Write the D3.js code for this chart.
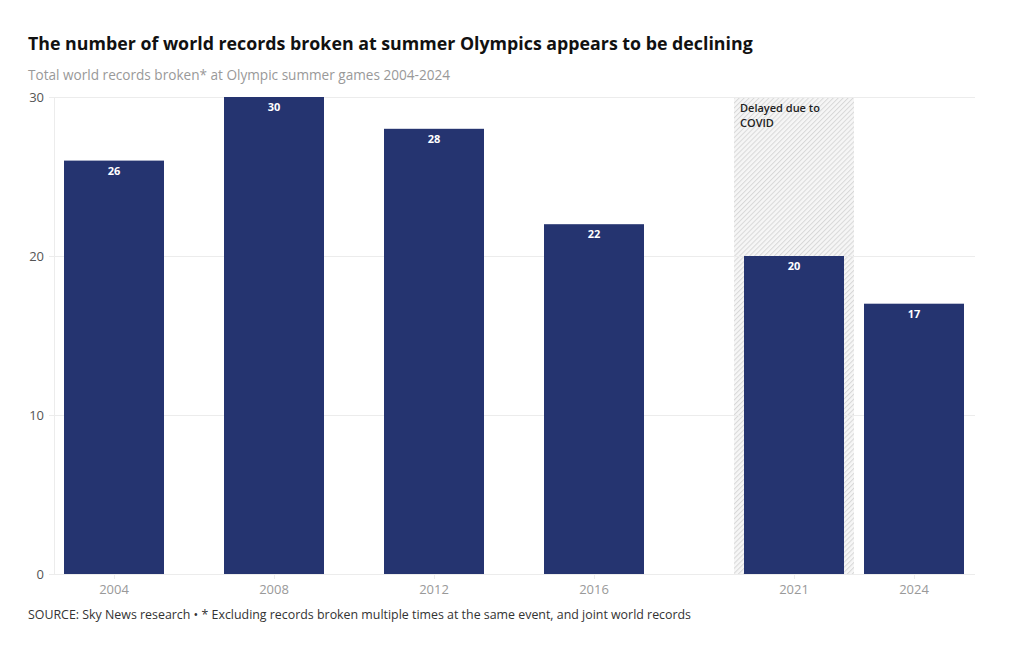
<!DOCTYPE html>
<html><head><meta charset="utf-8">
<script src="https://cdn.jsdelivr.net/npm/d3@7"></script>
<style>
body{margin:0;background:#fff;font-family:"Open Sans",sans-serif;}
svg{display:block}
</style></head><body>
<svg id="c" width="1020" height="650"></svg>
<script>
const years = [2004, 2008, 2012, 2016, 2021, 2024];
const records = [26, 30, 28, 22, 20, 17];
const yTicks = [0, 10, 20, 30];
const title = "The number of world records broken at summer Olympics appears to be declining";
const subtitle = "Total world records broken* at Olympic summer games 2004-2024";
const source = "SOURCE: Sky News research \u2022 * Excluding records broken multiple times at the same event, and joint world records";
const covidYear = 2021;
const covidLabel = ["Delayed due to", "COVID"];

const svg = d3.select("#c");
const x = d3.scaleLinear().domain([2002.5, 2025.5]).range([54, 974]);
const y = d3.scaleLinear().domain([0, 30]).range([574, 97]);
const barW = x(2006.5) - x(2004);

const defs = svg.append("defs");
const pat = defs.append("pattern").attr("id","hatch").attr("patternUnits","userSpaceOnUse")
  .attr("width",3.5).attr("height",3.5).attr("patternTransform","rotate(45)");
pat.append("rect").attr("width",3.5).attr("height",3.5).attr("fill","#f6f6f6");
pat.append("line").attr("x1",0.5).attr("y1",0).attr("x2",0.5).attr("y2",3.5).attr("stroke","#d8d8d8").attr("stroke-width",1);

// title
svg.append("text").attr("x",28).attr("y",50).attr("font-size",17.8).attr("font-weight",700)
  .attr("fill","#111").text(title);
svg.append("text").attr("x",28).attr("y",80).attr("font-size",13.6).attr("fill","#999")
  .text(subtitle);

// covid band
svg.append("rect").attr("x",x(covidYear-1.5)).attr("y",y(30)).attr("width",x(covidYear+1.5)-x(covidYear-1.5))
  .attr("height",y(0)-y(30)).attr("fill","url(#hatch)");

// grid
svg.append("g").selectAll("line").data(yTicks).join("line")
  .attr("x1",49).attr("x2",975).attr("y1",d=>y(d)+0.5).attr("y2",d=>y(d)+0.5)
  .attr("stroke","#ececec").attr("stroke-width",1);
svg.append("line").attr("x1",54.5).attr("x2",54.5).attr("y1",y(30)).attr("y2",y(0)).attr("stroke","#ececec");

// y labels
svg.append("g").selectAll("text").data(yTicks).join("text")
  .attr("x",44).attr("y",d=>y(d)+5).attr("text-anchor","end").attr("font-size",13).attr("fill","#555")
  .text(d=>d);

// bars
svg.append("g").selectAll("rect").data(years).join("rect")
  .attr("x",(d)=>x(d)-barW/2).attr("width",barW)
  .attr("y",(d,i)=>y(records[i])).attr("height",(d,i)=>y(0)-y(records[i]))
  .attr("fill","#253470");

// value labels
svg.append("g").selectAll("text").data(years).join("text")
  .attr("x",d=>x(d)).attr("y",(d,i)=>y(records[i])+14).attr("text-anchor","middle")
  .attr("font-size",11).attr("font-weight",700).attr("fill","#fff").text((d,i)=>records[i]);

// x ticks
svg.append("g").selectAll("line").data(years).join("line")
  .attr("x1",d=>x(d)+0.5).attr("x2",d=>x(d)+0.5).attr("y1",574).attr("y2",579).attr("stroke","#ececec");
svg.append("g").selectAll("text").data(years).join("text")
  .attr("x",d=>x(d)).attr("y",594).attr("text-anchor","middle").attr("font-size",13).attr("fill","#999")
  .text(d=>d);

// covid label
svg.append("g").selectAll("text").data(covidLabel).join("text")
  .attr("x",x(covidYear-1.5)+6).attr("y",(d,i)=>112+i*15).attr("font-size",11).attr("font-weight",600)
  .attr("fill","#222").text(d=>d);

svg.append("text").attr("x",28).attr("y",619).attr("font-size",12.4).attr("fill","#333").text(source);
</script>
</body></html>
